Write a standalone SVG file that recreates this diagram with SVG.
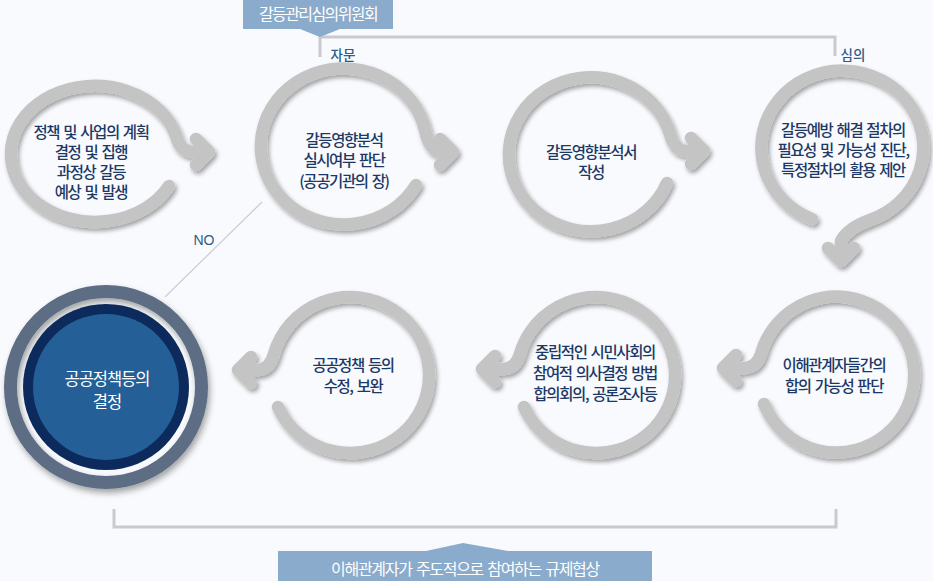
<svg xmlns="http://www.w3.org/2000/svg" width="933" height="581" viewBox="0 0 933 581">
<defs>
<filter id="sh" x="-20%" y="-20%" width="140%" height="140%">
<feDropShadow dx="2" dy="3" stdDeviation="2.2" flood-color="#000" flood-opacity="0.35"/>
</filter>
<filter id="sh2" x="-20%" y="-20%" width="140%" height="140%">
<feDropShadow dx="2" dy="4" stdDeviation="3" flood-color="#000" flood-opacity="0.35"/>
</filter>
</defs>
<style>
.ring{fill:none;stroke:#c4c4c4;stroke-width:12.5;stroke-linecap:round;stroke-linejoin:round;filter:url(#sh)}
.t{font-family:"Noto Sans CJK KR","Noto Sans",sans-serif;font-size:15.5px;font-weight:500;letter-spacing:-1.4px;word-spacing:2px;fill:#1c3866;text-anchor:middle}
.w{fill:#ffffff}
.s{font-family:"Noto Sans CJK KR","Noto Sans",sans-serif;font-size:13.5px;font-weight:500;fill:#2c5b8a;text-anchor:middle}
.br{fill:none;stroke:#c9c9cf;stroke-width:3}
.box{fill:#8aabcc}
</style>
<rect width="933" height="581" fill="#f8fafd"/>

<g id="connectors">
<polyline class="br" points="320,57 320,37 835,37 835,56"/>
<polyline class="br" points="114,509 114,527 836,527 836,509"/>
<line x1="165" y1="297" x2="262" y2="202" stroke="#c9ccd2" stroke-width="1.2"/>
<text class="s" x="343" y="60">자문</text>
<text class="s" x="853" y="60">심의</text>
<text class="s" x="204" y="245" style="font-family:'Liberation Sans',sans-serif;font-weight:normal;font-size:14px">NO</text>
</g>

<g id="committee">
<path class="box" d="M243,0 H393 V29 H340 L320,37 L300,29 H243 Z"/>
<text class="t w" x="318" y="20" style="font-weight:normal;font-size:16px;letter-spacing:-1.6px">갈등관리심의위원회</text>
</g>

<g id="n1">
<path class="ring" d="M169,186 A84,68 0 1 1 176,136 Q180,151 192,152 L204,152 M196,139 L209,152 L196,165"/>
<text class="t" x="91" y="138">정책 및 사업의 계획</text>
<text class="t" x="91" y="158">결정 및 집행</text>
<text class="t" x="91" y="178">과정상 갈등</text>
<text class="t" x="91" y="198">예상 및 발생</text>
</g>

<g id="n2">
<path class="ring" d="M416,185 A83,78 0 1 1 425,130 Q429,150 441,152 L450,152 M440,139 L453,152 L440,165"/>
<text class="t" x="344" y="146">갈등영향분석</text>
<text class="t" x="344" y="166">실시여부 판단</text>
<text class="t" x="344" y="187">(공공기관의 장)</text>
</g>

<g id="n3">
<path class="ring" d="M667,183 A82,77 0 1 1 670,134 Q674,150 686,151 L697,151 M691,138 L704,151 L691,164"/>
<text class="t" x="591" y="158">갈등영향분석서</text>
<text class="t" x="591" y="178">작성</text>
</g>

<g id="n4">
<path class="ring" d="M812,219 A81,77 0 1 1 870,220 Q848,228 841,241 L841,255 M828,248 L841,261 L854,248"/>
<text class="t" x="843" y="136">갈등예방 해결 절차의</text>
<text class="t" x="843" y="156">필요성 및 가능성 진단,</text>
<text class="t" x="843" y="176">특정절차의 활용 제안</text>
</g>

<g id="n6">
<path class="ring" d="M764,404 A78,78 0 1 0 761,354 Q757,367 745,368 L735,368 M736,355 L723,368 L736,381"/>
<text class="t" x="834" y="371">이해관계자들간의</text>
<text class="t" x="834" y="392">합의 가능성 판단</text>
</g>

<g id="n7">
<path class="ring" d="M524,407 A79,78 0 1 0 520,354 Q516,368 504,369 L494,369 M495,356 L482,369 L495,382"/>
<text class="t" x="595" y="358">중립적인 시민사회의</text>
<text class="t" x="595" y="379">참여적 의사결정 방법</text>
<text class="t" x="595" y="400">합의회의, 공론조사등</text>
</g>

<g id="n8">
<path class="ring" d="M278,407 A79,78 0 1 0 274,354 Q270,369 258,370 L249,370 M251,357 L238,370 L251,383"/>
<text class="t" x="353" y="371">공공정책 등의</text>
<text class="t" x="353" y="392">수정, 보완</text>
</g>

<g id="n5">
<circle cx="106" cy="387" r="95.5" fill="none" stroke="#5d6d83" stroke-width="13" filter="url(#sh2)"/>
<circle cx="106" cy="387" r="83" fill="#0c2b5c"/>
<circle cx="106" cy="387" r="73" fill="#245f98"/>
<text class="t w" x="107" y="385" style="font-size:16.5px;font-weight:normal;letter-spacing:-1px">공공정책등의</text>
<text class="t w" x="107" y="408" style="font-size:16.5px;font-weight:normal;letter-spacing:-1px">결정</text>
</g>

<g id="negotiation">
<path class="box" d="M278,551 H426 L463,543 L508,551 H652 V581 H278 Z"/>
<text class="t w" x="465" y="575" style="font-weight:normal;font-size:16px;letter-spacing:-1.3px">이해관계자가 주도적으로 참여하는 규제협상</text>
</g>
</svg>
